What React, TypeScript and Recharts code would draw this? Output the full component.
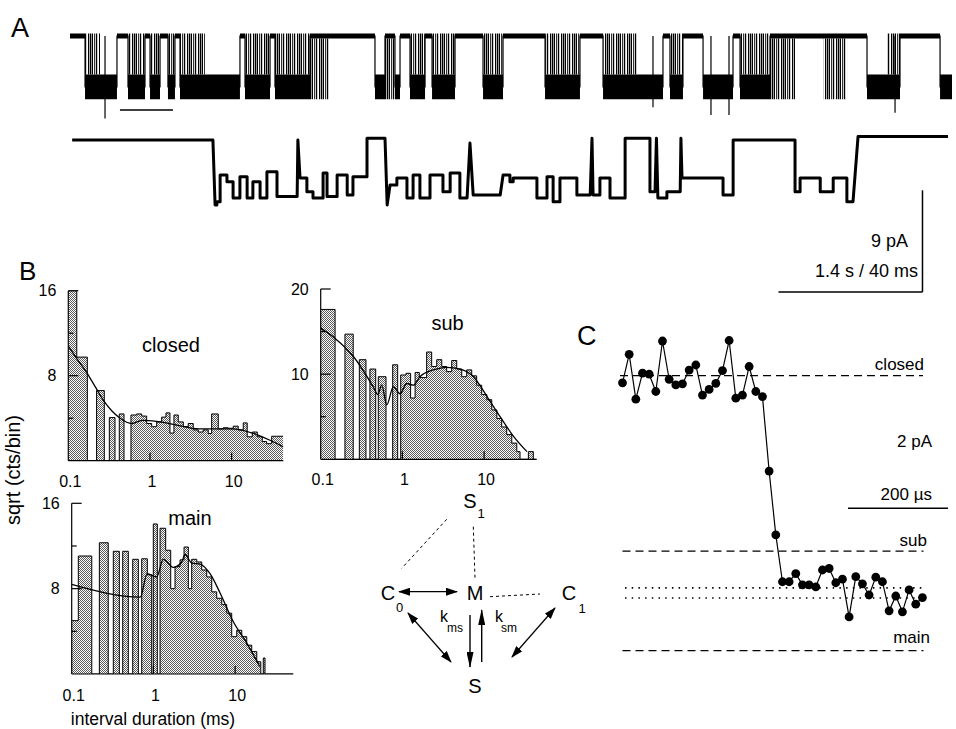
import React from 'react';
import { ComposedChart, Area, Line, XAxis, YAxis, ReferenceLine } from 'recharts';

const FONT = '"Liberation Sans", Arial, Helvetica, sans-serif';

// ---------------- Panel A : top trace (1.4 s scale), seconds / pA ----------------
// [start s, end s, state]  c = closed, o = open (sub/main), b = burst, f = flickers from closed
const topTraceSegments: [number, number, string][] = [
  [0, 0.146, 'c'], [0.146, 0.291, 'b'], [0.291, 0.456, 'o'], [0.456, 0.563, 'c'],
  [0.563, 0.728, 'b'], [0.728, 0.777, 'c'], [0.777, 0.874, 'b'], [0.874, 0.951, 'c'],
  [0.951, 1.019, 'b'], [1.019, 1.068, 'c'], [1.068, 1.311, 'b'], [1.311, 1.65, 'o'],
  [1.65, 1.699, 'c'], [1.699, 1.942, 'b'], [1.942, 1.99, 'c'], [1.99, 2.33, 'b'],
  [2.33, 2.524, 'f'], [2.524, 2.961, 'c'], [2.961, 3.058, 'o'], [3.058, 3.155, 'f'],
  [3.155, 3.204, 'o'], [3.204, 3.301, 'c'], [3.301, 3.447, 'b'], [3.447, 3.515, 'c'],
  [3.515, 3.738, 'b'], [3.738, 4.01, 'c'], [4.01, 4.204, 'b'], [4.204, 4.612, 'c'],
  [4.612, 4.951, 'b'], [4.951, 5.175, 'c'], [5.175, 5.505, 'b'], [5.505, 5.757, 'o'],
  [5.757, 5.825, 'c'], [5.825, 5.951, 'b'], [5.951, 6.146, 'c'], [6.146, 6.437, 'o'],
  [6.437, 6.505, 'c'], [6.505, 6.796, 'b'], [6.796, 7.039, 'f'], [7.039, 7.311, 'c'],
  [7.311, 7.544, 'f'], [7.544, 7.738, 'c'], [7.738, 7.932, 'o'], [7.932, 8.058, 'b'],
  [8.058, 8.447, 'c'], [8.447, 8.563, 'o'],
];
const topTraceSpikes: [number, number][] = [[0.34, -7.3], [5.66, -6.3], [6.223, -7.0], [6.398, -7.0], [8.01, -6.8]];
const topMarkerBar: [number, number, number] = [0.485, 1.0, -6.55];
const traceLevels = { closedHi: 0.22, closedLo: -0.22, openHi: -3.4, openLo: -5.6, openMid: -4.5 };

// ---------------- Panel A : bottom trace (40 ms scale), [t0 ms, t1 ms, I pA] level holds ----------------
const bottomHolds: [number, number, number][] = [
  [0.6, 39.7, 0], [40.3, 40.8, -5.75], [40.8, 41.7, -5.46], [41.7, 43.6, -3.1], [43.6, 45.3, -3.69],
  [45.3, 47.2, -5.13], [47.2, 49.2, -3.25], [49.2, 50.8, -5.13], [50.8, 52.8, -3.69], [52.8, 54.7, -5.13],
  [54.7, 57.5, -2.8], [57.5, 63.1, -5.0], [63.3, 63.3, 0], [63.9, 65.8, -3.36], [65.8, 67.5, -4.58],
  [67.5, 70.3, -5.13], [70.3, 71.4, -2.92], [71.4, 74.2, -5.0], [74.2, 77, -3.1], [77, 78.6, -4.87],
  [78.6, 82.5, -3.25], [82.5, 87.5, 0.15], [88.1, 88.1, -5.75], [88.9, 90.8, -3.98], [90.8, 93.6, -3.36],
  [93.6, 95.3, -5.13], [95.3, 97.2, -3.1], [97.2, 100, -5.13], [100, 103.6, -3.1], [103.6, 105.6, -4.58],
  [105.6, 108.3, -2.92], [108.3, 110.3, -5.13], [111.1, 111.1, -0.27], [112, 119.5, -4.87], [120.3, 122.2, -3.1],
  [122.2, 123.1, -3.69], [123.1, 129.7, -3.36], [129.7, 132.5, -5.13], [132.5, 134.2, -3.25], [134.2, 136.1, -5.46],
  [136.1, 140.8, -3.36], [140.8, 144.5, -4.87], [145, 145, 0.15], [145.3, 147.2, -4.87], [147.2, 150, -3.36],
  [150, 154.2, -5.13], [154.2, 161.1, 0.15], [161.1, 162.5, -4.58], [162.9, 162.9, 0.15], [163.3, 165.8, -5.13],
  [165.8, 169.5, -4.58], [169.7, 169.7, 0.15], [170, 181.4, -3.36], [181.4, 184.2, -4.87], [184.2, 201.4, 0],
  [201.4, 202.8, -4.58], [202.8, 208.4, -3.36], [208.4, 212, -4.58], [212, 215.8, -3.36], [215.8, 217.5, -5.46],
  [218.9, 243.9, 0.3],
];
const scaleBarPA = 9;
const scaleBarMs = 40;
const scaleBarCorner: [number, number] = [236.8, -13.45];

// ---------------- Panel B : dwell-time histograms (ms, sqrt counts/bin) ----------------
const closedEdges = [0.1, 0.127, 0.171, 0.222, 0.276, 0.318, 0.373, 0.421, 0.481, 0.585, 0.687, 0.791, 0.911, 1.049, 1.208, 1.39, 1.57, 1.757, 1.966, 2.22, 2.56, 2.94, 3.39, 3.9, 4.49, 5.17, 5.69, 6.86, 7.89, 9.08, 10.46, 12.04, 13.87, 15.5, 17.9, 20.6, 23.7, 26.8, 30.9, 35.6, 42.9];
const closedHeights = [16, 9.75, 0, 6.6, 0, 4.06, 0, 4.4, 0, 4.3, 4.4, 4.2, 3.5, 3.2, 3.65, 4.1, 4.5, 2.6, 4.3, 3.65, 3.2, 3.5, 2.9, 2.7, 2.9, 2.56, 4.4, 3.0, 3.1, 3.05, 3.25, 2.9, 3.56, 2.25, 2.7, 2.25, 1.8, 1.6, 2.3, 2.3];
const closedFitX = [0.1, 0.13, 0.171, 0.22, 0.268, 0.34, 0.43, 0.6, 0.8, 1.2, 2, 4, 10, 18, 30, 42.9];
const closedFitY = [10.8, 9.5, 8.2, 6.8, 5.7, 4.7, 4.0, 3.5, 3.8, 3.7, 3.4, 3.0, 3.0, 2.6, 1.9, 1.3];

const subEdges = [0.1, 0.15, 0.198, 0.25, 0.297, 0.358, 0.4, 0.471, 0.507, 0.63, 0.76, 0.875, 0.953, 1.107, 1.26, 1.43, 1.61, 1.98, 2.28, 2.63, 3.03, 3.48, 4.01, 4.62, 5.32, 6.12, 7.05, 8.1, 9.34, 10.8, 12.4, 14.3, 16.4, 18.9, 21.8, 25.1, 27.5, 34.8, 40, 44];
const subHeights = [17.6, 0, 14.7, 0, 11.7, 0, 10.6, 0, 9.7, 0, 11.1, 0, 9.9, 10.1, 7.2, 10.2, 9.6, 12.6, 10.9, 11.7, 10.9, 10.3, 11.6, 10.6, 9.7, 10.5, 9.8, 8.7, 7.6, 7.0, 5.8, 4.8, 3.8, 2.9, 1.9, 0.9, 0, 0.9, 0];
const subFitX = [0.1, 0.15, 0.25, 0.44, 0.5, 0.558, 0.644, 0.774, 0.935, 1.13, 1.36, 1.64, 2.39, 3.48, 5.12, 7.4, 10.8, 15.7, 22.9, 33.5];
const subFitY = [15.4, 14.2, 12.1, 8.5, 7.6, 8.7, 6.4, 8.5, 7.7, 8.9, 8.7, 9.7, 10.5, 10.8, 10.6, 9.7, 7.4, 5.0, 2.7, 0.9];

const mainEdges = [0.1, 0.1205, 0.176, 0.218, 0.28, 0.323, 0.383, 0.421, 0.493, 0.558, 0.654, 0.719, 0.842, 0.953, 0.997, 1.117, 1.205, 1.413, 1.628, 1.838, 2.117, 2.37, 2.675, 2.94, 3.39, 3.9, 4.49, 5.17, 5.95, 6.86, 7.89, 9.08, 10.46, 12.05, 13.87, 15.97, 18.4, 20.6, 22.1, 23.2, 51.5];
const mainHeights = [5.0, 11.06, 0, 12.3, 0, 11.5, 0, 11.5, 0, 10.75, 0, 10.8, 9.3, 0, 14.06, 0, 13.66, 11.6, 8.0, 10.06, 10.7, 11.9, 8.0, 10.75, 10.5, 9.75, 9.1, 7.7, 7.1, 6.5, 5.7, 3.5, 4.1, 3.5, 2.7, 2.1, 1.15, 0, 1.5, 0];
const mainFitX = [0.1, 0.69, 0.84, 1.097, 1.32, 1.75, 2.22, 2.44, 2.94, 3.72, 4.93, 6.54, 9.5, 13.87, 20];
const mainFitY = [8.4, 7.2, 9.4, 9.1, 10.75, 10.0, 10.5, 11.2, 10.4, 10.3, 9.4, 7.6, 4.9, 2.9, 0.7];

const histXTicks = [0.1, 1, 10];

// ---------------- Panel C : sampled current around a closed->open transition ----------------
const cSampleIntervalUs = 13.33;
const cCurrentPA = [-0.14, 0.42, -0.46, 0.05, 0.03, -0.31, 0.68, -0.07, -0.18, -0.16, 0.11, 0.21, -0.38, -0.27, -0.15, 0.1, 0.69, -0.44, -0.38, 0.18, -0.31, -0.41, -1.87, -3.12, -4.04, -4.04, -3.88, -4.1, -4.1, -4.14, -3.81, -3.78, -4.06, -3.99, -4.73, -3.94, -4.08, -4.3, -3.95, -4.04, -4.61, -4.32, -4.63, -4.2, -4.48, -4.35];
const cLevels = { closed: 0, sub: -3.44, dotHi: -4.16, dotLo: -4.36, main: -5.39 };
const cTimeBar: [number, number, number] = [451, 651, -2.6];

// ---------------- data assembly ----------------
type Band = [number, number] | null;
const topRows: { t: number; cl: Band; op: Band; fl: Band; mid: number }[] = [];
topTraceSegments.forEach(([t0, t1, k]) => {
  const L = traceLevels;
  const cl: Band = k === 'c' || k === 'f' ? [L.closedLo, L.closedHi] : null;
  const op: Band = k === 'o' || k === 'b' ? [L.openLo, L.openHi] : null;
  const fl: Band = k === 'b' ? [L.openHi, L.closedHi] : k === 'f' ? [L.openLo, L.closedLo] : null;
  const mid = k === 'c' || k === 'f' ? 0 : L.openMid;
  topRows.push({ t: t0, cl, op, fl, mid }, { t: t1, cl, op, fl, mid });
});
const spikeRows: { t: number; v: number | null }[] = [];
topTraceSpikes.forEach(([t, v]) => {
  spikeRows.push({ t, v: 0 }, { t, v }, { t: t + 0.0001, v: null });
});
const bottomRows: { t: number; i: number }[] = [];
bottomHolds.forEach(([t0, t1, i]) => {
  bottomRows.push({ t: t0, i });
  if (t1 !== t0) bottomRows.push({ t: t1, i });
});

const stepRows = (edges: number[], heights: number[]) => {
  const r = heights.map((h, i) => ({ x: edges[i], y: h }));
  r.push({ x: edges[edges.length - 1], y: heights[heights.length - 1] });
  return r;
};
const fitRows = (xs: number[], ys: number[]) => xs.map((x, i) => ({ x, y: ys[i] }));
const cRows = cCurrentPA.map((v, i) => ({ t: i * cSampleIntervalUs, v }));

// ---------------- ticks ----------------
const makeXTick = (dy: number) => (props: any) => {
  const { x, y, payload } = props;
  const v = payload.value;
  return (
    <g>
      {v !== 0.1 && <line x1={x} x2={x} y1={y} y2={y - 8} stroke="#000" strokeWidth={1.2} />}
      <text x={x + 2} y={y + dy} textAnchor="middle" fontSize={16} fontFamily={FONT} fill="#000">
        {v === 0.1 ? '0.1' : String(v)}
      </text>
    </g>
  );
};
const makeYTick = (majors: number[], minors: number[]) => (props: any) => {
  const { x, y, payload } = props;
  const v = payload.value;
  if (majors.includes(v)) {
    return (
      <g>
        <line x1={x} x2={x + 10} y1={y} y2={y} stroke="#000" strokeWidth={1.2} />
        <text x={x - 12} y={y + 5.5} textAnchor="end" fontSize={16} fontFamily={FONT} fill="#000">{v}</text>
      </g>
    );
  }
  if (minors.includes(v)) return <line x1={x} x2={x + 5} y1={y} y2={y} stroke="#000" strokeWidth={1.2} />;
  return <g />;
};

const AX = 30; // axis band size reserved for tick labels
const Hist = (p: {
  left: number; top: number; w: number; h: number; margin: any; xMax: number; yMax: number;
  edges: number[]; heights: number[]; fx: number[]; fy: number[]; yTicks: number[]; majors: number[]; minors: number[]; dy: number;
}) => (
  <div style={{ position: 'absolute', left: p.left, top: p.top }}>
    <ComposedChart width={p.w} height={p.h}
      margin={{ left: p.margin.left - AX, right: p.margin.right, top: p.margin.top, bottom: p.margin.bottom - AX }}>
      <XAxis type="number" dataKey="x" scale="log" domain={[0.1, p.xMax]} allowDataOverflow ticks={histXTicks}
        height={AX} tickSize={0} tickMargin={0} tickLine={false} axisLine={{ stroke: '#000', strokeWidth: 1.2 }}
        tick={makeXTick(p.dy)} interval={0} />
      <YAxis type="number" domain={[0, p.yMax]} allowDataOverflow ticks={p.yTicks} width={AX} tickSize={0} tickMargin={0}
        tickLine={false} axisLine={{ stroke: '#000', strokeWidth: 1.2 }} tick={makeYTick(p.majors, p.minors)} interval={0} />
      <Area data={stepRows(p.edges, p.heights)} dataKey="y" type="stepAfter" fill="url(#stipple)" fillOpacity={1}
        stroke="#000" strokeWidth={1} isAnimationActive={false} dot={false} activeDot={false} />
      <Line data={fitRows(p.fx, p.fy)} dataKey="y" type="monotone" stroke="#000" strokeWidth={1.3} dot={false}
        activeDot={false} isAnimationActive={false} />
    </ComposedChart>
  </div>
);

const T = (props: any) => <text fontFamily={FONT} fill="#000" {...props} />;

export default function App() {
  return (
    <div style={{ position: 'absolute', left: 0, top: 0, width: 956, height: 729, background: '#fff', overflow: 'hidden' }}>
      <svg width={0} height={0} style={{ position: 'absolute' }}>
        <defs>
          <pattern id="stipple" width={2} height={2} patternUnits="userSpaceOnUse">
            <rect width={2} height={2} fill="#fff" />
            <rect x={0} y={0} width={1} height={1} fill="#5a5a5a" />
            <rect x={1} y={1} width={1} height={1} fill="#5a5a5a" />
          </pattern>
          <pattern id="stripes" width={11} height={4} patternUnits="userSpaceOnUse">
            <rect x={0} y={0} width={1.3} height={4} fill="#000" />
            <rect x={2} y={0} width={1} height={4} fill="#000" />
            <rect x={3.6} y={0} width={1.4} height={4} fill="#000" />
            <rect x={6.2} y={0} width={1} height={4} fill="#000" />
            <rect x={8} y={0} width={1.2} height={4} fill="#000" />
          </pattern>
          <marker id="ah" viewBox="0 0 12 8" refX={11} refY={4} markerWidth={12} markerHeight={8}
            orient="auto-start-reverse" markerUnits="userSpaceOnUse">
            <path d="M0,0 L12,4 L0,8 z" fill="#000" />
          </marker>
          <marker id="ahv" viewBox="0 0 16 7" refX={15} refY={3.5} markerWidth={16} markerHeight={7}
            orient="auto-start-reverse" markerUnits="userSpaceOnUse">
            <path d="M0,0 L16,3.5 L0,7 z" fill="#000" />
          </marker>
        </defs>
      </svg>

      {/* Panel A top trace */}
      <div style={{ position: 'absolute', left: 0, top: 0 }}>
        <ComposedChart width={956} height={130} data={topRows} margin={{ left: 70, right: 4, top: 24.7, bottom: 9.25 }}>
          <XAxis type="number" dataKey="t" domain={[0, 8.563]} allowDataOverflow hide />
          <YAxis type="number" domain={[-7.5, 1]} allowDataOverflow hide />
          <Area dataKey="fl" type="linear" fill="url(#stripes)" fillOpacity={1} stroke="none" isAnimationActive={false} dot={false} activeDot={false} />
          <Area dataKey="op" type="linear" fill="#000" fillOpacity={1} stroke="none" isAnimationActive={false} dot={false} activeDot={false} />
          <Area dataKey="cl" type="linear" fill="#000" fillOpacity={1} stroke="none" isAnimationActive={false} dot={false} activeDot={false} />
          <Line dataKey="mid" type="linear" stroke="#000" strokeWidth={1.2} dot={false} activeDot={false} isAnimationActive={false} />
          <Line data={spikeRows} dataKey="v" type="linear" stroke="#000" strokeWidth={1.2} dot={false} activeDot={false} isAnimationActive={false} />
          <ReferenceLine segment={[{ x: topMarkerBar[0], y: topMarkerBar[2] }, { x: topMarkerBar[1], y: topMarkerBar[2] }]} stroke="#000" strokeWidth={1.5} />
        </ComposedChart>
      </div>

      {/* Panel A bottom trace + scale bars */}
      <div style={{ position: 'absolute', left: 0, top: 120 }}>
        <ComposedChart width={956} height={190} data={bottomRows} margin={{ left: 70, right: 4, top: 8.7, bottom: 9.5 }}>
          <XAxis type="number" dataKey="t" domain={[0, 245]} allowDataOverflow hide />
          <YAxis type="number" domain={[-14.2, 1]} allowDataOverflow hide />
          <Line dataKey="i" type="linear" stroke="#000" strokeWidth={3} strokeLinejoin="round" dot={false} activeDot={false} isAnimationActive={false} />
          <ReferenceLine segment={[{ x: scaleBarCorner[0], y: scaleBarCorner[1] + scaleBarPA }, { x: scaleBarCorner[0], y: scaleBarCorner[1] }]} stroke="#000" strokeWidth={1.5} />
          <ReferenceLine segment={[{ x: scaleBarCorner[0] - scaleBarMs, y: scaleBarCorner[1] }, { x: scaleBarCorner[0], y: scaleBarCorner[1] }]} stroke="#000" strokeWidth={1.5} />
        </ComposedChart>
      </div>

      {/* Panel B histograms */}
      <Hist left={0} top={270} w={300} h={230} margin={{ left: 68.3, right: 16.7, top: 20.7, bottom: 39.3 }}
        xMax={42.9} yMax={16} edges={closedEdges} heights={closedHeights} fx={closedFitX} fy={closedFitY}
        yTicks={[0, 4, 8, 12, 16]} majors={[8, 16]} minors={[4, 12]} dy={26} />
      <Hist left={280} top={270} w={270} h={230} margin={{ left: 40.7, right: 13.3, top: 19, bottom: 40.7 }}
        xMax={44} yMax={20} edges={subEdges} heights={subHeights} fx={subFitX} fy={subFitY}
        yTicks={[0, 5, 10, 15, 20]} majors={[10, 20]} minors={[5, 15]} dy={26} />
      <Hist left={0} top={480} w={310} h={240} margin={{ left: 71.7, right: 16.7, top: 23.3, bottom: 46 }}
        xMax={51.5} yMax={16} edges={mainEdges} heights={mainHeights} fx={mainFitX} fy={mainFitY}
        yTicks={[0, 4, 8, 12, 16]} majors={[8, 16]} minors={[4, 12]} dy={27} />

      {/* Panel C */}
      <div style={{ position: 'absolute', left: 580, top: 310 }}>
        <ComposedChart width={376} height={380} data={cRows} margin={{ left: 20, right: 6, top: 14.7, bottom: 8.3 }}>
          <XAxis type="number" dataKey="t" domain={[-45, 655]} allowDataOverflow hide />
          <YAxis type="number" domain={[-6, 1]} allowDataOverflow hide />
          <ReferenceLine segment={[{ x: -5, y: cLevels.closed }, { x: 601, y: cLevels.closed }]} stroke="#000" strokeWidth={1.3} strokeDasharray="8 5" />
          <ReferenceLine segment={[{ x: 0, y: cLevels.sub }, { x: 602, y: cLevels.sub }]} stroke="#000" strokeWidth={1.3} strokeDasharray="8 5" />
          <ReferenceLine segment={[{ x: 0, y: cLevels.main }, { x: 602, y: cLevels.main }]} stroke="#000" strokeWidth={1.3} strokeDasharray="8 5" />
          <ReferenceLine segment={[{ x: 5, y: cLevels.dotHi }, { x: 608, y: cLevels.dotHi }]} stroke="#000" strokeWidth={1.6} strokeDasharray="1.5 5.2" />
          <ReferenceLine segment={[{ x: 5, y: cLevels.dotLo }, { x: 608, y: cLevels.dotLo }]} stroke="#000" strokeWidth={1.6} strokeDasharray="1.5 5.2" />
          <ReferenceLine segment={[{ x: cTimeBar[0], y: cTimeBar[2] }, { x: cTimeBar[1], y: cTimeBar[2] }]} stroke="#000" strokeWidth={1.6} />
          <Line dataKey="v" type="linear" stroke="#000" strokeWidth={1.2} isAnimationActive={false} activeDot={false}
            dot={{ r: 4.4, fill: '#000', stroke: '#000', strokeWidth: 0 }} />
        </ComposedChart>
      </div>

      {/* annotations and kinetic scheme */}
      <svg width={956} height={729} style={{ position: 'absolute', left: 0, top: 0, pointerEvents: 'none' }}>
        <T x={11} y={37} fontSize={27}>A</T>
        <T x={19} y={280} fontSize={26}>B</T>
        <T x={577} y={345} fontSize={27}>C</T>

        <T x={908} y={247} fontSize={18} textAnchor="end">9 pA</T>
        <T x={918} y={277} fontSize={18} textAnchor="end">1.4 s / 40 ms</T>

        <T x={171} y={352} fontSize={20} textAnchor="middle">closed</T>
        <T x={447.5} y={330} fontSize={20} textAnchor="middle">sub</T>
        <T x={190} y={525} fontSize={20} textAnchor="middle">main</T>
        <T transform="translate(20,470) rotate(-90)" fontSize={20} textAnchor="middle">sqrt (cts/bin)</T>
        <T x={153} y={725} fontSize={17.5} textAnchor="middle">interval duration (ms)</T>

        <T x={924} y={370} fontSize={17} textAnchor="end">closed</T>
        <T x={932} y={447} fontSize={17} textAnchor="end">2 pA</T>
        <T x={932} y={500} fontSize={17} textAnchor="end">200 µs</T>
        <T x={927} y={546} fontSize={17} textAnchor="end">sub</T>
        <T x={930} y={643} fontSize={17} textAnchor="end">main</T>

        {/* kinetic scheme */}
        <T x={470} y={508} fontSize={20} textAnchor="middle">S</T>
        <T x={481} y={518} fontSize={13} textAnchor="middle">1</T>
        <T x={388} y={600} fontSize={20} textAnchor="middle">C</T>
        <T x={399.5} y={612} fontSize={13} textAnchor="middle">0</T>
        <T x={475} y={600} fontSize={20} textAnchor="middle">M</T>
        <T x={569} y={600} fontSize={20} textAnchor="middle">C</T>
        <T x={582} y={613} fontSize={13} textAnchor="middle">1</T>
        <T x={475} y={693} fontSize={20} textAnchor="middle">S</T>
        <T x={444} y={622} fontSize={16} textAnchor="middle">k</T>
        <T x={455} y={632} fontSize={12} textAnchor="middle">ms</T>
        <T x={499} y={622} fontSize={16} textAnchor="middle">k</T>
        <T x={509} y={632} fontSize={12} textAnchor="middle">sm</T>

        <line x1={446.7} y1={519.3} x2={401.7} y2={568.3} stroke="#000" strokeWidth={1} strokeDasharray="3 3" />
        <line x1={473.3} y1={526.7} x2={475} y2={578} stroke="#000" strokeWidth={1} strokeDasharray="3 3" />
        <line x1={490} y1={596.7} x2={540} y2={594} stroke="#000" strokeWidth={1} strokeDasharray="3 3" />

        <line x1={399} y1={591.7} x2={457} y2={591.7} stroke="#000" strokeWidth={1.2} markerStart="url(#ah)" markerEnd="url(#ah)" />
        <line x1={408} y1={613} x2={451} y2={662} stroke="#000" strokeWidth={1.2} markerStart="url(#ah)" markerEnd="url(#ah)" />
        <line x1={555} y1={608} x2={512} y2={657} stroke="#000" strokeWidth={1.2} markerStart="url(#ah)" markerEnd="url(#ah)" />
        <line x1={470} y1={615} x2={470} y2={667} stroke="#000" strokeWidth={1.4} markerEnd="url(#ahv)" />
        <line x1={481.7} y1={662} x2={481.7} y2={610} stroke="#000" strokeWidth={1.4} markerEnd="url(#ahv)" />
      </svg>
    </div>
  );
}
